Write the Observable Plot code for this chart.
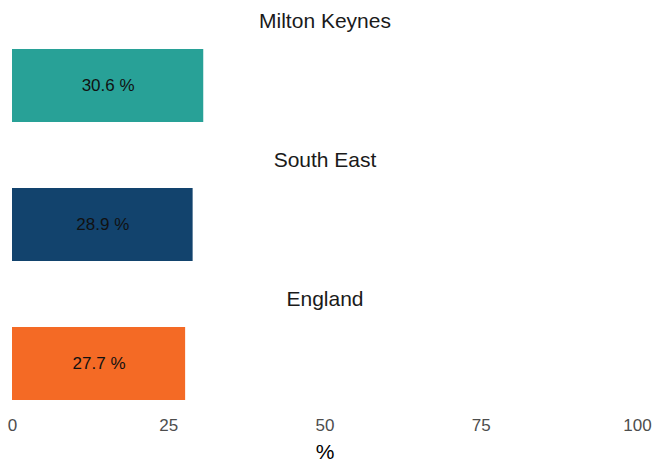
<!DOCTYPE html>
<html>
<head>
<meta charset="utf-8">
<script src="https://cdn.jsdelivr.net/npm/d3@7"></script>
<script src="https://cdn.jsdelivr.net/npm/@observablehq/plot@0.6"></script>
<style>
  html, body { margin: 0; padding: 0; background: #fff; }
  #chart svg { display: block; }
</style>
</head>
<body>
<div id="chart"></div>
<script>
const areas = ["Milton Keynes", "South East", "England"];
const values = [30.6, 28.9, 27.7];
const colours = ["#28A197", "#12436D", "#F46A25"];
const xTicks = [0, 25, 50, 75, 100];
const axisLabel = "%";

const data = areas.map((a, i) => ({area: a, value: values[i], label: values[i].toFixed(1) + " %"}));

const chart = Plot.plot({
  width: 653,
  height: 461,
  marginLeft: 12,
  marginRight: 16,
  marginTop: 0,
  marginBottom: 61,
  style: {fontFamily: "'Liberation Sans', Arial, sans-serif", background: "#fff"},
  x: {domain: [0, 100], range: [12, 637], ticks: xTicks, label: null},
  y: {domain: areas, range: [49, 400], paddingInner: 66 / 139, paddingOuter: 0, axis: null},
  color: {domain: areas, range: colours},
  marks: [
    Plot.barX(data, {x: "value", y: "area", fill: "area"}),
    Plot.text(data, {x: d => d.value / 2, y: "area", text: "label", fontSize: 17, fill: "#111"}),
    Plot.text(data, {y: "area", frameAnchor: "middle", text: "area", dy: -64.5, fontSize: 21, fill: "#1a1a1a"}),
    Plot.axisX({ticks: xTicks, tickSize: 0, tickPadding: 18, fontSize: 17, color: "#4d4d4d", label: null, tickFormat: d3.format("d")}),
    Plot.text([axisLabel], {frameAnchor: "bottom", dy: 58, fontSize: 21, fill: "#000"})
  ]
});
document.getElementById("chart").appendChild(chart);
</script>
</body>
</html>
